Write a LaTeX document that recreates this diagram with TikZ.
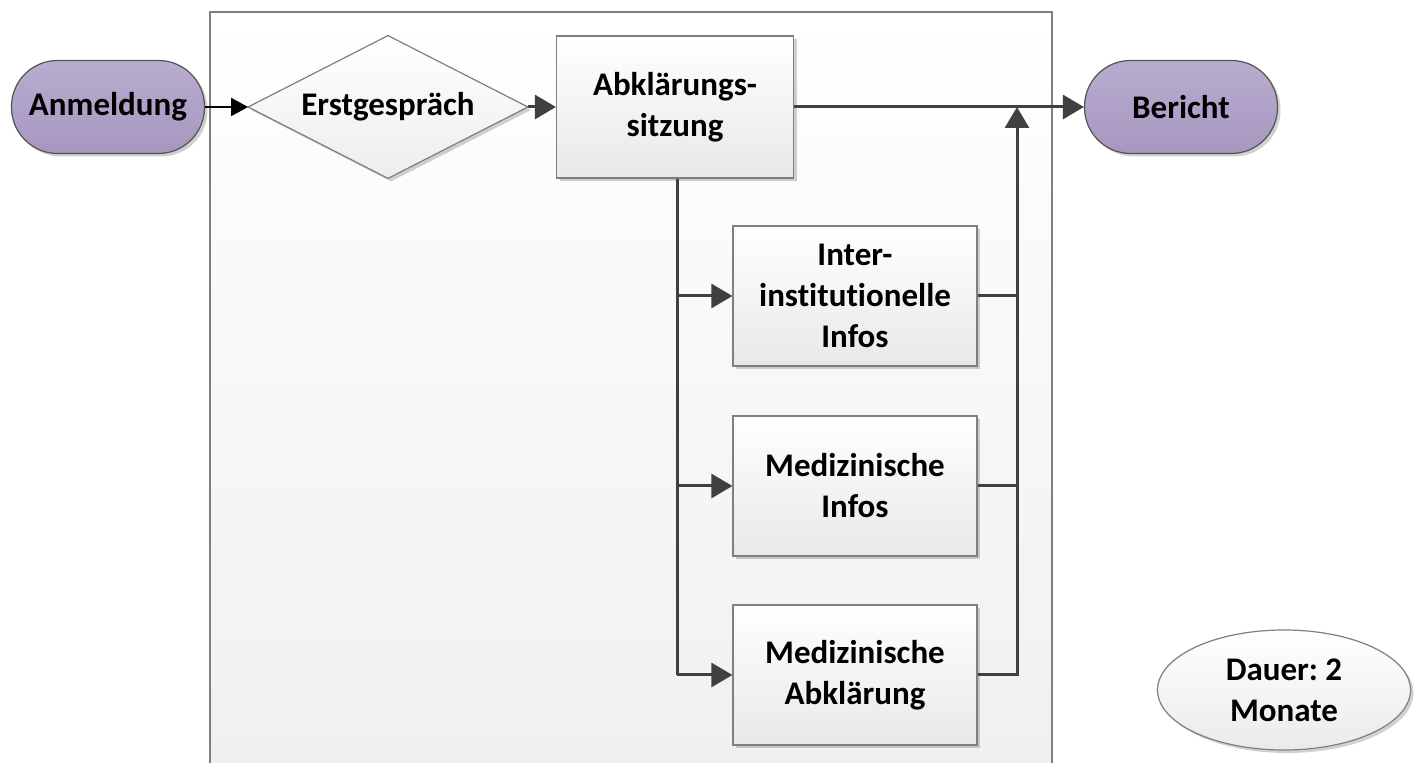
\documentclass[tikz,border=0pt]{standalone}
\usepackage{fontspec}
\setmainfont{Carlito}[Ligatures={NoCommon}]
\usetikzlibrary{arrows.meta,shapes.geometric,shadows}
\definecolor{lin}{HTML}{404040}
\definecolor{bord}{HTML}{7F7F7F}
\definecolor{purtop}{HTML}{B8ACCF}
\definecolor{purbot}{HTML}{A797C0}
\begin{document}
\frenchspacing
\begin{tikzpicture}[x=0.5pt,y=-0.5pt,
  every node/.style={font=\fontsize{16.5pt}{20.5pt}\selectfont\bfseries, align=center, inner sep=0pt},
  shad/.style={drop shadow={shadow xshift=1.5pt, shadow yshift=-1.5pt, opacity=0.18, fill=black}},
  term/.style={rectangle, rounded corners=23pt, minimum width=96.5pt, minimum height=46.5pt,
    draw=lin!90, line width=0.6pt, top color=purtop, bottom color=purbot, shad},
  procbox/.style={rectangle, minimum width=122pt, minimum height=70pt,
    draw=bord, line width=0.6pt, top color=white, bottom color=black!9, shad},
  hidden/.style={rectangle, minimum width=139.5pt, minimum height=71pt},
  conn/.style={draw=lin, line width=1.5pt, -{Triangle[length=10.5pt,width=12pt]}},
  plain/.style={draw=lin, line width=1.5pt},
  thin/.style={draw=black, line width=1pt, -{Triangle[length=8.5pt,width=9pt]}}
]
\useasboundingbox (0,0) rectangle (1419,763);
\fill[white] (0,0) rectangle (1419,763);
% container
\draw[draw=bord, line width=0.7pt, top color=white, bottom color=black!6] (210,12) rectangle (1052,780);

% nodes
\node[term] (anm) at (108,107) {Anmeldung};
\node[hidden] (erst) at (388,107) {};
\filldraw[draw=bord, line width=0.6pt, top color=white, bottom color=black!7, shad]
  (erst.west) -- (erst.north) -- (erst.east) -- (erst.south) -- cycle;
\node at (erst.center) {Erstgespräch};
\node[procbox, minimum width=118.5pt, minimum height=71pt] (abk) at (675,107) {Abklärungs-\\sitzung};
\node[term] (ber) at (1181,107) {Bericht};
\node[procbox] (ii) at (855,296) {Inter-\\institutionelle\\Infos};
\node[procbox] (mi) at (855,486) {Medizinische\\Infos};
\node[procbox] (ma) at (855,675) {Medizinische\\Abklärung};
\node[ellipse, minimum width=126.5pt, minimum height=60pt, draw=bord, line width=0.6pt,
  top color=white, bottom color=black!8, shad] (dau) at (1284,690) {Dauer: 2\\Monate};

\coordinate (jx) at (1017,107);
\coordinate (lx) at (677,107);

% connectors
\draw[thin] (anm.east) -- (erst.west);
\draw[conn] (erst.east) -- (abk.west);
\draw[conn] (abk.east) -- (ber.west);
\draw[plain] (lx |- abk.south) -- (lx |- ma.west);
\draw[conn] (lx |- ii.west) -- (ii.west);
\draw[conn] (lx |- mi.west) -- (mi.west);
\draw[conn] (lx |- ma.west) -- (ma.west);
\draw[plain] (ii.east) -- (ii.east -| jx);
\draw[plain] (mi.east) -- (mi.east -| jx);
\draw[conn] (ma.east) -- (ma.east -| jx) -- (jx);
\end{tikzpicture}
\end{document}
